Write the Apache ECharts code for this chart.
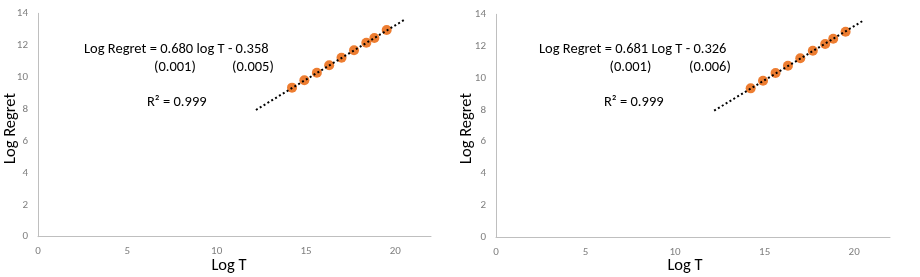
<!DOCTYPE html>
<html>
<head>
<meta charset="utf-8">
<script src="https://cdn.jsdelivr.net/npm/echarts@6/dist/echarts.min.js"></script>
<style>
html,body{margin:0;padding:0;background:#fff;}
#chart{width:920px;height:277px;}
</style>
</head>
<body>
<div id="chart"></div>
<script>
// Data
const logT = [14.22, 14.91, 15.61, 16.30, 16.99, 17.69, 18.38, 18.83, 19.52];
const logRegretLeft = [9.34, 9.80, 10.28, 10.74, 11.22, 11.68, 12.15, 12.45, 12.95];
const logRegretRight = [9.35, 9.83, 10.31, 10.77, 11.24, 11.71, 12.14, 12.47, 12.91];
const trendXLeft = [12.2, 20.52];
const trendYLeft = [7.94, 13.60];
const trendXRight = [12.18, 20.56];
const trendYRight = [7.95, 13.64];
const xTicks = [0, 5, 10, 15, 20];
const yTicks = [0, 2, 4, 6, 8, 10, 12, 14];
const eqLeft = ['Log Regret = 0.680 log T - 0.358', '(0.001)', '(0.005)', 'R\u00B2 = 0.999'];
const eqRight = ['Log Regret = 0.681 Log T - 0.326', '(0.001)', '(0.006)', 'R\u00B2 = 0.999'];
const xName = 'Log T';
const yName = 'Log Regret';

const font = 'Carlito, "Liberation Sans", Arial, sans-serif';
const axisColor = '#bfbfbf';
const labelColor = '#7f7f7f';

function mkX(idx) {
  return {
    type: 'value', gridIndex: idx, min: 0, max: 22, interval: 5,
    axisLine: {show: true, lineStyle: {color: axisColor, width: 1}},
    axisTick: {show: false},
    splitLine: {show: false},
    axisLabel: {color: labelColor, fontSize: 11, fontFamily: font, margin: 9, showMaxLabel: false,
      formatter: v => xTicks.includes(v) ? String(v) : ''}
  };
}
function mkY(idx) {
  return {
    type: 'value', gridIndex: idx, min: 0, max: 14, interval: 2,
    axisLine: {show: true, lineStyle: {color: axisColor, width: 1}},
    axisTick: {show: false},
    splitLine: {show: false},
    axisLabel: {color: labelColor, fontSize: 11, fontFamily: font, margin: 10,
      formatter: v => yTicks.includes(v) ? String(v) : ''}
  };
}
function pairs(xs, ys) { return xs.map((x, i) => [x, ys[i]]); }

function texts(eq, o) {
  const st = (t) => ({text: t, fill: '#000', font: '14.5px ' + font, textVerticalAlign: 'middle', textAlign: 'left'});
  const nm = (t) => ({text: t, fill: '#000', font: '16.5px ' + font, textVerticalAlign: 'middle', textAlign: 'center'});
  return [
    {type: 'text', x: o.l1, y: 49, style: st(eq[0])},
    {type: 'text', x: o.s1, y: 67, style: st(eq[1])},
    {type: 'text', x: o.s2, y: 67, style: st(eq[2])},
    {type: 'text', x: o.r2, y: 102.5, style: st(eq[3])},
    {type: 'text', x: o.xn, y: 266, style: nm(xName)},
    {type: 'text', x: o.yn, y: 128.5, rotation: Math.PI / 2, style: nm(yName)}
  ];
}

const chart = echarts.init(document.getElementById('chart'), null, {renderer: 'canvas'});
chart.setOption({
  animation: false,
  grid: [
    {left: 38, top: 13.3, width: 393, height: 223.4, outerBoundsMode: 'none', containLabel: false},
    {left: 496, top: 14.3, width: 394, height: 223, outerBoundsMode: 'none', containLabel: false}
  ],
  xAxis: [mkX(0), mkX(1)],
  yAxis: [mkY(0), mkY(1)],
  graphic: texts(eqLeft, {l1: 84, s1: 154, s2: 232, r2: 147, xn: 229, yn: 10.5})
    .concat(texts(eqRight, {l1: 539, s1: 609.5, s2: 689, r2: 604, xn: 685, yn: 467})),
  series: [
    {type: 'scatter', xAxisIndex: 0, yAxisIndex: 0, symbolSize: 10, itemStyle: {color: '#ED7D31', opacity: 1}, data: pairs(logT, logRegretLeft)},
    {type: 'line', xAxisIndex: 0, yAxisIndex: 0, symbol: 'none', lineStyle: {color: '#000', width: 2, type: [2, 2.5]}, data: pairs(trendXLeft, trendYLeft)},
    {type: 'scatter', xAxisIndex: 1, yAxisIndex: 1, symbolSize: 10, itemStyle: {color: '#ED7D31', opacity: 1}, data: pairs(logT, logRegretRight)},
    {type: 'line', xAxisIndex: 1, yAxisIndex: 1, symbol: 'none', lineStyle: {color: '#000', width: 2, type: [2, 2.5]}, data: pairs(trendXRight, trendYRight)}
  ]
});
</script>
</body>
</html>
